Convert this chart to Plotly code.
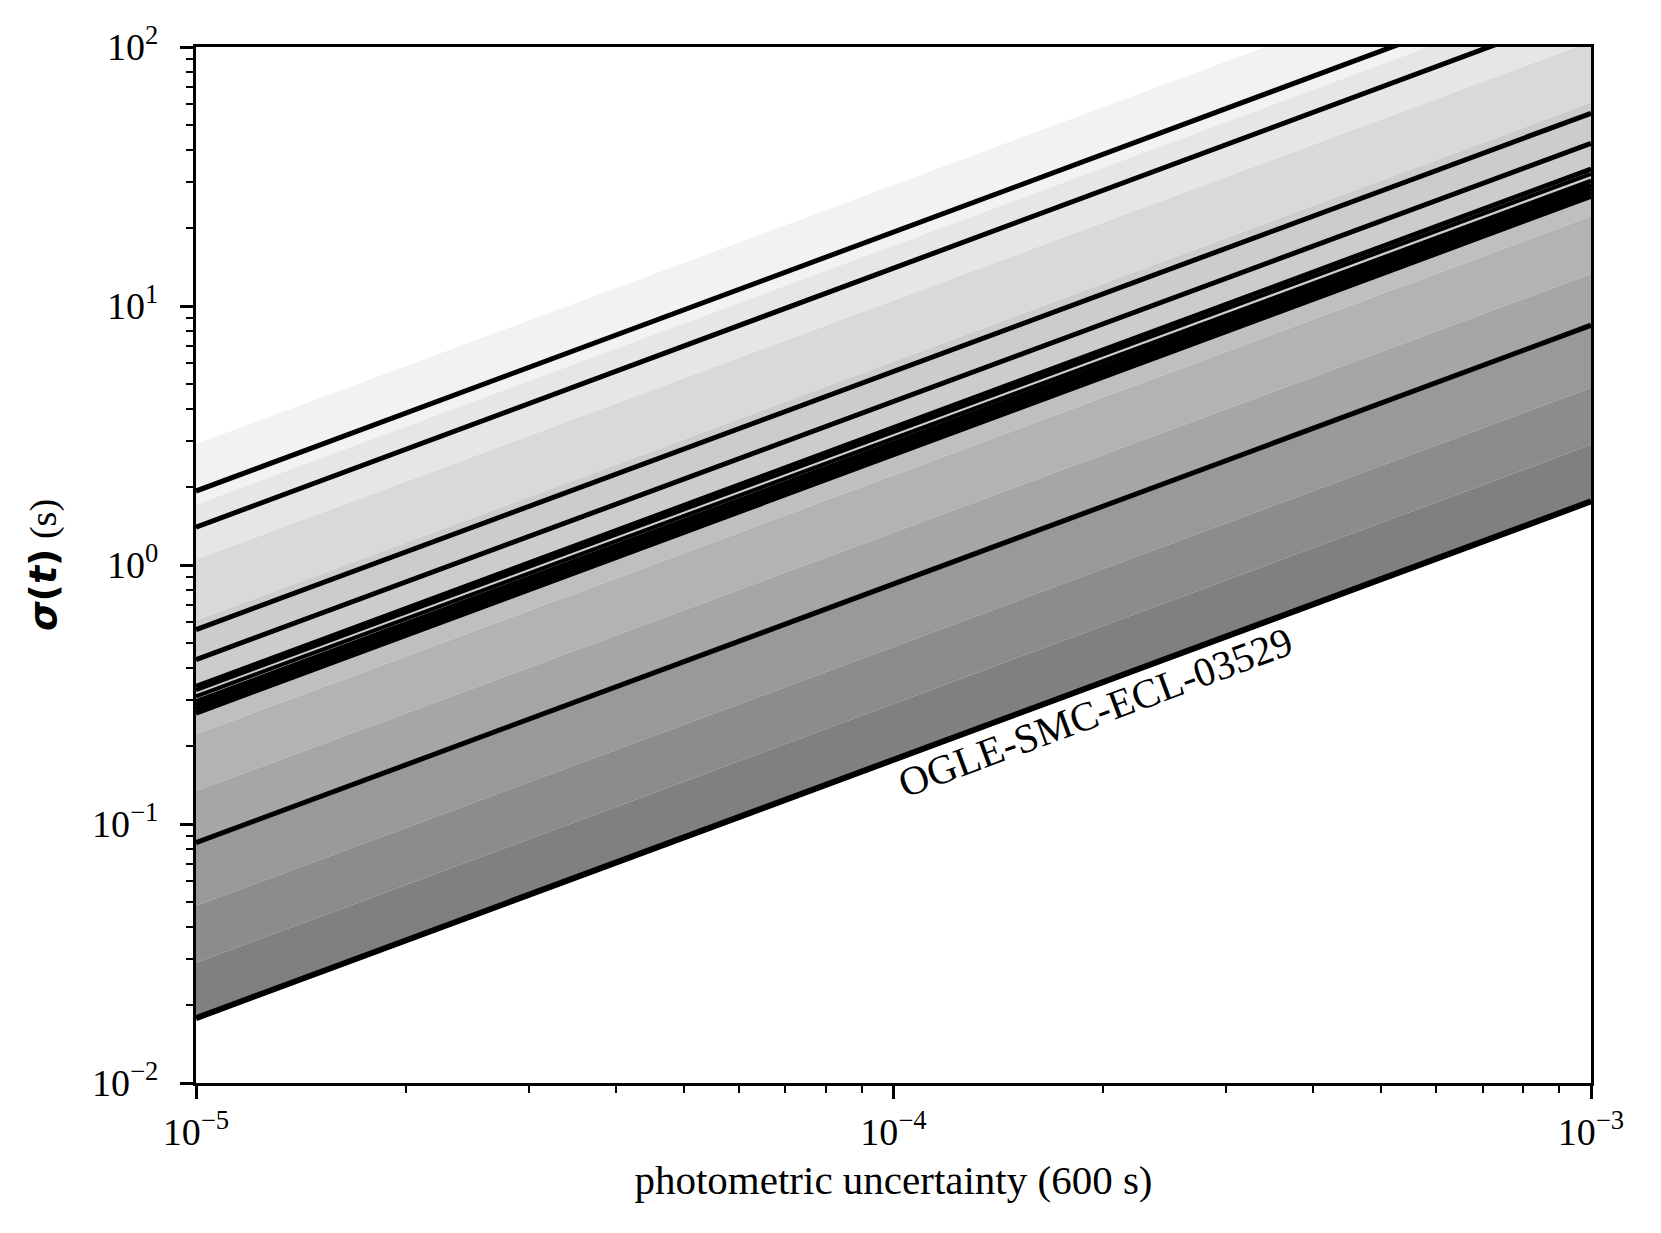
import math
import plotly.graph_objects as go

# x range of the chart (photometric uncertainty over 600 s)
x_ends = [1e-5, 1e-3]

# sigma(t) of each black line, read at the left and right edges
line_left = [1.93, 1.40, 0.563, 0.431, 0.340, 0.329, 0.311, 0.297, 0.288, 0.278, 0.268, 0.0847, 0.0178]
line_right = [193, 140, 55.5, 42.5, 33.8, 32.4, 30.5, 29.4, 28.5, 27.5, 26.5, 8.43, 1.76]
line_width = [5, 5, 5, 5, 5, 4, 4, 5, 5, 5, 5, 5, 6]

# grey bands: boundaries at left / right edge, and fill grey
band_top_left = [2.93, 1.71, 1.05, 0.61, 0.30, 0.222, 0.134, 0.085, 0.0483, 0.0291]
band_top_right = [293, 171, 105, 61, 30, 22.2, 13.3, 8.5, 4.83, 2.91]
band_bottom_left = [1.71, 1.05, 0.61, 0.30, 0.222, 0.134, 0.085, 0.0483, 0.0291, 0.0178]
band_bottom_right = [171, 105, 61, 30, 22.2, 13.3, 8.5, 4.83, 2.91, 1.76]
band_grey = ["#f2f2f2", "#e6e6e6", "#d9d9d9", "#cccccc", "#bfbfbf",
             "#b3b3b3", "#a6a6a6", "#999999", "#8c8c8c", "#808080"]

label_text = "OGLE-SMC-ECL-03529"
label_pos = (1.95e-4, 0.27)

x_tickvals = [1e-5, 1e-4, 1e-3]
x_ticktext = ["10<sup>\u22125</sup>", "10<sup>\u22124</sup>", "10<sup>\u22123</sup>"]
y_tickvals = [1e-2, 1e-1, 1, 10, 100]
y_ticktext = ["10<sup>\u22122</sup>", "10<sup>\u22121</sup>", "10<sup>0</sup>",
              "10<sup>1</sup>", "10<sup>2</sup>"]

SERIF = "Liberation Serif"

fig = go.Figure()

for i in range(len(band_grey)):
    fig.add_trace(go.Scatter(
        x=[x_ends[0], x_ends[1], x_ends[1], x_ends[0]],
        y=[band_bottom_left[i], band_bottom_right[i], band_top_right[i], band_top_left[i]],
        mode="none", fill="toself", fillcolor=band_grey[i],
        hoverinfo="skip", showlegend=False,
    ))

for i in range(len(line_left)):
    fig.add_trace(go.Scatter(
        x=x_ends, y=[line_left[i], line_right[i]],
        mode="lines", line=dict(color="black", width=line_width[i]),
        showlegend=False,
    ))

# annotations on log axes take log10 positions
fig.add_annotation(
    x=math.log10(label_pos[0]), y=math.log10(label_pos[1]),
    text=label_text, showarrow=False, textangle=-20.4,
    font=dict(family=SERIF, size=41, color="black"),
)

# minor ticks at 2..9 of every decade
x_minor = [m * 10.0 ** e for e in (-5, -4) for m in range(2, 10)]
y_minor = [m * 10.0 ** e for e in (-2, -1, 0, 1) for m in range(2, 10)]

axis_common = dict(
    type="log", showgrid=False, zeroline=False,
    showline=True, linecolor="black", linewidth=3, mirror=True,
    ticks="outside", ticklen=13, tickwidth=3, tickcolor="black",
    tickfont=dict(family=SERIF, size=38, color="black"),
)

fig.update_xaxes(
    **axis_common, range=[-5, -3], tickmode="array",
    tickvals=x_tickvals, ticktext=x_ticktext,
    minor=dict(tickmode="array", tickvals=x_minor, ticks="outside",
               ticklen=7, tickwidth=2, tickcolor="black", showgrid=False),
    title=dict(text="photometric uncertainty (600 s)", standoff=14,
               font=dict(family=SERIF, size=41, color="black")),
)
fig.update_yaxes(
    **axis_common, range=[-2, 2], tickmode="array",
    tickvals=y_tickvals, ticktext=y_ticktext, ticklabelstandoff=14,
    minor=dict(tickmode="array", tickvals=y_minor, ticks="outside",
               ticklen=7, tickwidth=2, tickcolor="black", showgrid=False),
    title=dict(
        text="<span style='font-family:DejaVu Sans'><b><i>\u03c3</i>(<i>t</i>)</b></span> (s)",
        standoff=24, font=dict(family=SERIF, size=38, color="black")),
)

fig.update_layout(
    width=1661, height=1233,
    margin=dict(l=188, r=78, t=36, b=158),
    plot_bgcolor="white", paper_bgcolor="white",
)

fig.write_html("out.html")
